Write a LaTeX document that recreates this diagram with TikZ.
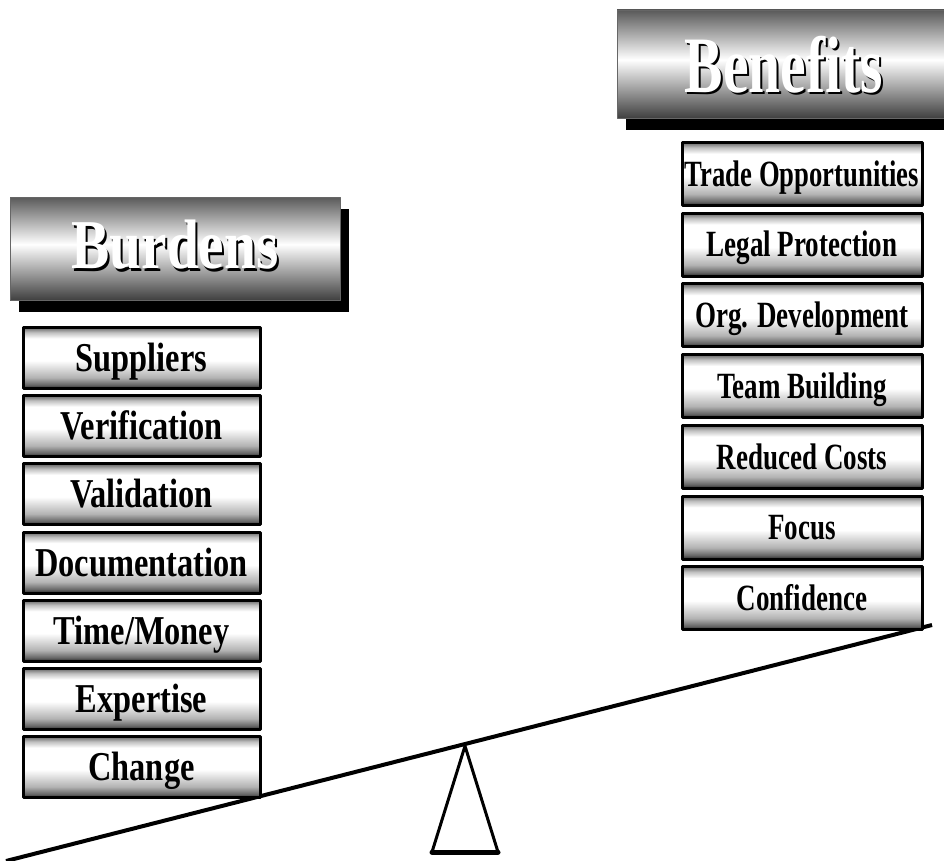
\documentclass[tikz,border=0pt]{standalone}
\usepackage{fontspec}
\setmainfont{Liberation Serif}
\usetikzlibrary{shadows}

% grey bands of the little boxes and of the two titles
\pgfdeclareverticalshading{boxshade}{100bp}{color(0bp)=(black!85); color(25bp)=(black!85); color(28bp)=(black!60); color(34bp)=(black!30); color(48bp)=(white); color(66bp)=(white); color(71bp)=(black!25); color(75bp)=(black!60); color(100bp)=(black!60)}
\pgfdeclareverticalshading{headshade}{100bp}{color(0bp)=(black!75); color(25bp)=(black!75); color(52bp)=(white); color(75bp)=(black!65); color(100bp)=(black!65)}

\newcommand{\squeezetext}[2][0.79]{\scalebox{#1}[1]{#2}}
% white title with a black copy just below right of it
\newcommand{\shadowtitle}[1]{\rlap{\kern2.5pt\raisebox{-2.5pt}{\textcolor{black}{#1}}}\textcolor{white}{#1}}

\begin{document}
\begin{tikzpicture}[
     x = 1pt, y = -1pt, % one unit = one pixel, y going down
     line join = round
 ]

 \tikzstyle{header} = [
     draw = black!60,
     shading = headshade,
     inner sep = 0pt,
     drop shadow = {shadow xshift=9pt, shadow yshift=-12pt, fill=black, opacity=1}
 ]
 \tikzstyle{headtext} = [
     inner sep = 0pt,
     text height = 46pt,
     text depth = 0pt
 ]
 \tikzstyle{burden} = [
     draw = black,
     line width = 3pt,
     shading = boxshade,
     inner sep = 0pt,
     outer sep = 0pt,
     minimum width = 237pt,
     minimum height = 61pt,
     text height = 27pt,
     text depth = 0pt,
     font = \bfseries\fontsize{41}{41}\selectfont,
     node distance = 68.2pt
 ]
 \tikzstyle{benefit} = [
     burden,
     minimum width = 240pt,
     minimum height = 63pt,
     text height = 24.5pt,
     font = \bfseries\fontsize{37}{37}\selectfont,
     node distance = 70.7pt
 ]

 \useasboundingbox (0,0) rectangle (944,861);

 % seesaw
 \coordinate (beamL) at (6,861);
 \coordinate (beamR) at (932,625);
 \coordinate (tip) at (465,746);
 \coordinate (footL) at (432,852);
 \coordinate (footR) at (498,852);
 \draw[line width=4pt] (beamL) -- (beamR);
 \draw[line width=3pt] (footL) -- (tip) -- (footR);
 \draw[line width=5pt, line cap=round] (footL) -- (footR);

 % left pan
 \node[header, minimum width=330pt, minimum height=103pt] (burdenbox) at (175,248.5) {};
 \node[headtext, font=\bfseries\fontsize{70}{70}\selectfont] (burdentitle) at ([yshift=3pt]burdenbox.center) {\squeezetext[0.82]{\shadowtitle{Burdens}}};

 \node[burden] (sup) at (141.5,358) {\squeezetext{Suppliers}};
 \node[burden] (ver) [below of=sup] {\squeezetext{Verification}};
 \node[burden] (val) [below of=ver] {\squeezetext{Validation}};
 \node[burden] (doc) [below of=val] {\squeezetext{Documentation}};
 \node[burden] (tim) [below of=doc] {\squeezetext{Time/Money}};
 \node[burden] (exp) [below of=tim] {\squeezetext{Expertise}};
 \node[burden] (chg) [below of=exp] {\squeezetext{Change}};

 % right pan
 \node[header, minimum width=334pt, minimum height=108pt] (benefitbox) at (784,64) {};
 \node[headtext, font=\bfseries\fontsize{80}{80}\selectfont, text height=53pt] (benefittitle) at ([yshift=-2pt]benefitbox.center) {\squeezetext[0.72]{\shadowtitle{Benefits}}};

 \node[benefit] (trd) at (802,174) {\squeezetext[0.72]{Trade Opportunities}};
 \node[benefit] (leg) [below of=trd] {\squeezetext[0.73]{Legal Protection}};
 \node[benefit] (org) [below of=leg] {\squeezetext[0.73]{Org. Development}};
 \node[benefit] (tea) [below of=org] {\squeezetext[0.73]{Team Building}};
 \node[benefit] (red) [below of=tea] {\squeezetext[0.73]{Reduced Costs}};
 \node[benefit] (foc) [below of=red] {\squeezetext[0.73]{Focus}};
 \node[benefit] (con) [below of=foc] {\squeezetext[0.73]{Confidence}};
\end{tikzpicture}
\end{document}
